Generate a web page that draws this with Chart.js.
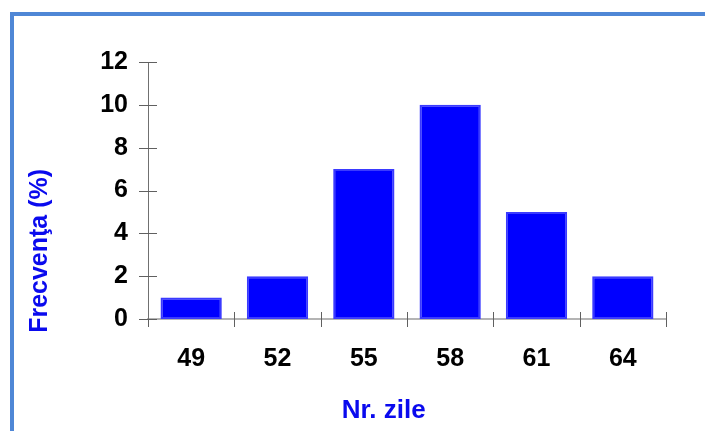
<!DOCTYPE html>
<html>
<head>
<meta charset="utf-8">
<script src="https://cdn.jsdelivr.net/npm/chart.js@4/dist/chart.umd.min.js"></script>
<style>
  html, body { margin: 0; padding: 0; background: #fff; }
  #wrap { position: relative; width: 705px; height: 431px; overflow: hidden; }
  #frame { position: absolute; left: 10px; top: 12px; right: -10px; bottom: -10px;
           border-left: 4px solid #4f87d6; border-top: 4px solid #4f87d6; }
  canvas { position: absolute; left: 0; top: 0; }
</style>
</head>
<body>
<div id="wrap">
  <div id="frame"></div>
  <canvas id="c" width="705" height="431"></canvas>
</div>
<script>
// Number of days (categories) and the frequency for each
const days = ['49', '52', '55', '58', '61', '64'];
const frequency = [1, 2, 7, 10, 5, 2];
const yTicks = [0, 2, 4, 6, 8, 10, 12];
const xTitle = 'Nr. zile';
const yTitle = 'Frecvenţa (%)';

const fontFamily = '"Liberation Sans", Arial, sans-serif';
const labelFont = { family: fontFamily, size: 25, weight: 'bold' };

// Short tick marks that cross the axis lines, plus the two axis titles
const axisDecor = {
  id: 'axisDecor',
  afterDraw(chart) {
    const ctx = chart.ctx;
    const x = chart.scales.x, y = chart.scales.y;
    ctx.save();
    ctx.strokeStyle = '#606060';
    ctx.lineWidth = 1;
    ctx.beginPath();
    y.ticks.forEach(t => {
      const py = Math.round(y.getPixelForValue(t.value)) + 0.5;
      ctx.moveTo(y.right - 9, py);
      ctx.lineTo(y.right + 9, py);
    });
    const n = days.length;
    for (let i = 0; i <= n; i++) {
      const px = Math.round(x.left + i * x.width / n) + 0.5;
      ctx.moveTo(px, i === 0 ? x.top : x.top - 7);
      ctx.lineTo(px, x.top + 8);
    }
    ctx.stroke();

    ctx.fillStyle = '#0a0aee';
    ctx.textAlign = 'center';
    ctx.textBaseline = 'middle';
    ctx.font = 'bold 26px ' + fontFamily;
    ctx.fillText(xTitle, x.left + x.width * 0.455, 411);

    ctx.font = 'bold 25px ' + fontFamily;
    ctx.translate(40, y.top + (y.bottom - y.top) * 0.735);
    ctx.rotate(-Math.PI / 2);
    ctx.fillText(yTitle, 0, 0);
    ctx.restore();
  }
};

new Chart(document.getElementById('c'), {
  type: 'bar',
  data: {
    labels: days,
    datasets: [{
      data: frequency,
      backgroundColor: '#0000ff',
      borderColor: '#3a3aff',
      borderWidth: 2,
      borderSkipped: false,
      categoryPercentage: 1,
      barPercentage: 0.71
    }]
  },
  options: {
    responsive: false,
    animation: false,
    devicePixelRatio: 1,
    layout: { padding: { left: 0, top: 62, right: 39, bottom: 0 } },
    plugins: { legend: { display: false }, tooltip: { enabled: false } },
    scales: {
      x: {
        grid: { display: false },
        border: { display: true, color: '#b4b4b4', width: 2 },
        ticks: { color: '#000', font: labelFont, padding: 17, maxRotation: 0 },
        afterFit(scale) { scale.height = 112; }
      },
      y: {
        min: 0, max: 12,
        afterBuildTicks(scale) { scale.ticks = yTicks.map(v => ({ value: v })); },
        grid: { display: false },
        border: { display: true, color: '#707070', width: 1 },
        ticks: { color: '#000', font: labelFont, padding: 12 },
        afterFit(scale) { scale.width = 148; }
      }
    }
  },
  plugins: [axisDecor]
});
</script>
</body>
</html>
